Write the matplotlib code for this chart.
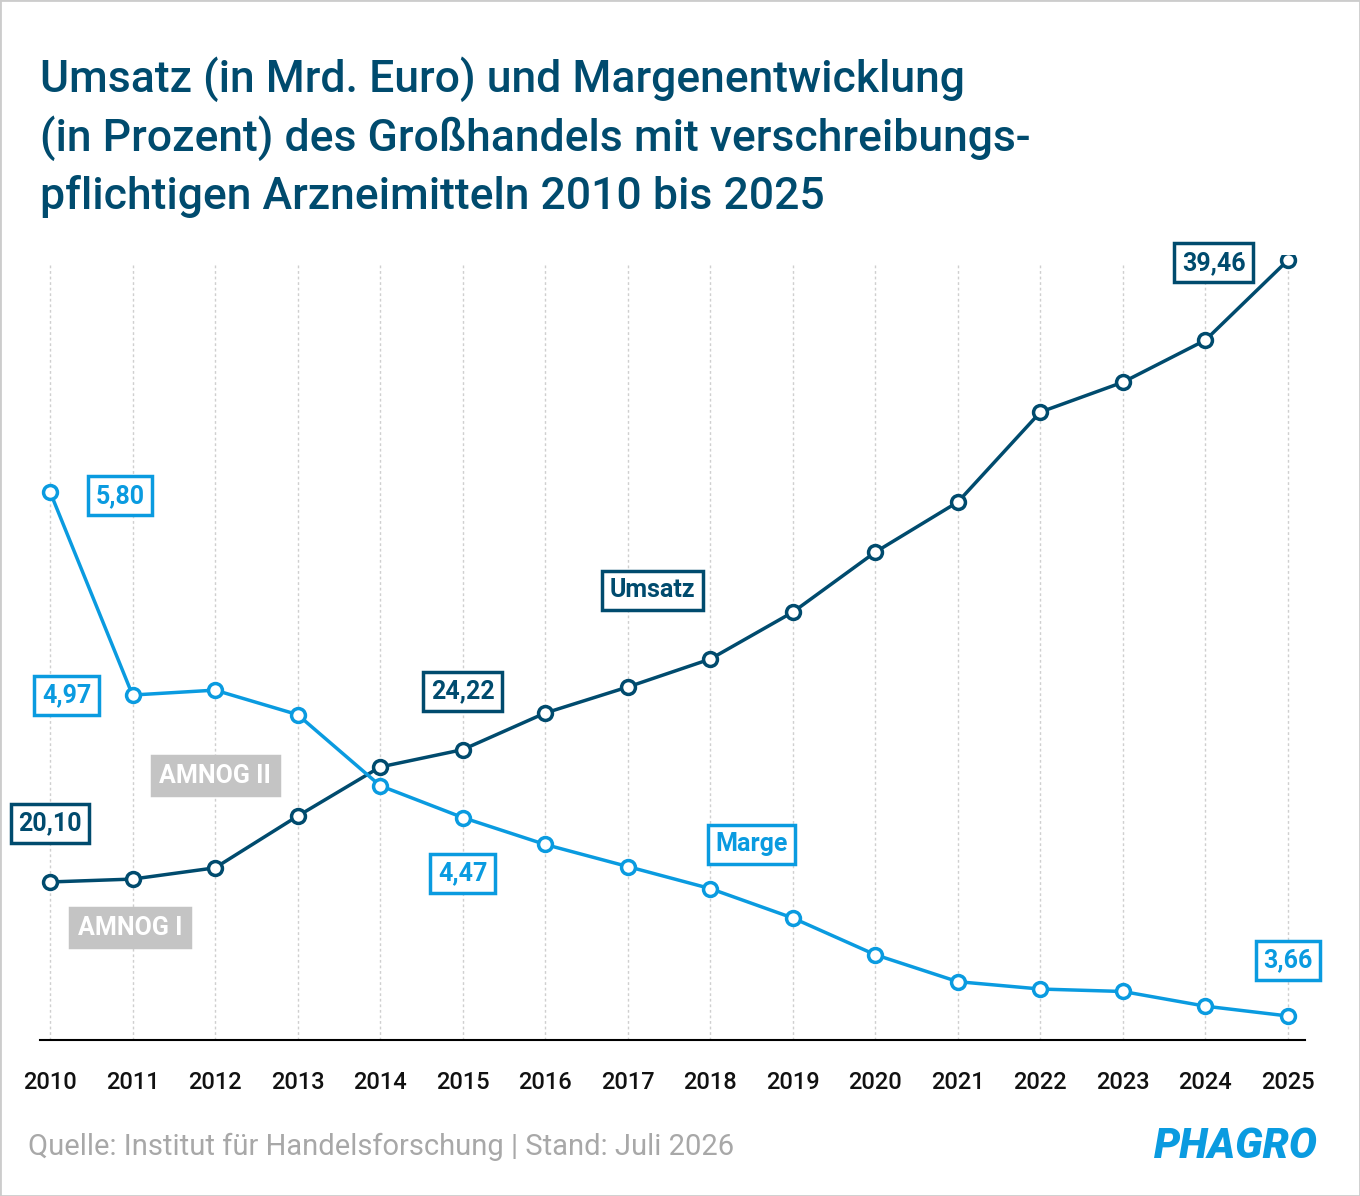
import matplotlib.pyplot as plt
from matplotlib.patches import Rectangle

years = list(range(2010, 2026))
umsatz = [20.10, 20.19, 20.54, 22.15, 23.68, 24.22, 25.36, 26.17, 27.04, 28.50,
          30.37, 31.93, 34.73, 35.66, 36.97, 39.46]
marge = [5.80, 4.97, 4.99, 4.89, 4.60, 4.47, 4.36, 4.27, 4.18, 4.06,
         3.91, 3.80, 3.77, 3.76, 3.70, 3.66]

dark = '#004b6e'
light = '#0a9be0'
grey = '#c4c4c4'
plt.rcParams['font.family'] = ['Roboto', 'DejaVu Sans']

W, H = 1360, 1196
fig = plt.figure(figsize=(W / 100, H / 100), dpi=100)
fig.patches.append(Rectangle((0, 0), 1, 1, transform=fig.transFigure, fill=False,
                             edgecolor='#cccccc', linewidth=2))

# axes spanning baseline (y=1040) to y=255, x pixels 40..1305
def px(x0, y0, x1, y1):
    return [x0 / W, 1 - y1 / H, (x1 - x0) / W, (y1 - y0) / H]

ax = fig.add_axes(px(40, 255, 1305, 1040))
x_lo = 2010 - (50 - 40) / ((1288 - 50) / 15)
x_hi = 2025 + (1305 - 1288) / ((1288 - 50) / 15)
ax.set_xlim(x_lo, x_hi)
ax.set_ylim(15.18, 39.62)
ax2 = ax.twinx()
ax2.set_ylim(3.562, 6.766)

for a in (ax, ax2):
    for s in a.spines.values():
        s.set_visible(False)
    a.set_yticks([])
ax.spines['bottom'].set_visible(True)
ax.spines['bottom'].set_linewidth(1.5)
ax.set_xticks(years)
ax.set_xticklabels([str(y) for y in years], fontsize=17, fontweight='medium', color='#111111')
ax.tick_params(axis='x', length=0, pad=22)
for y in years:
    ax.axvline(y, ymin=0, ymax=0.99, color='#cfcfcf', linestyle=(0, (2, 2)), linewidth=1, zorder=0)

mk = dict(marker='o', markersize=10, markerfacecolor='white', markeredgewidth=2.5, linewidth=2.5)
ax.plot(years, umsatz, color=dark, zorder=3, **mk)
ax2.plot(years, marge, color=light, zorder=3, **mk)

def box(a, x, y, txt, col, dx=0, dy=0, fc='white', ec=None, tc=None):
    a.annotate(txt, (x, y), xytext=(dx, dy), textcoords='offset points', ha='center', va='center',
               fontsize=18, fontweight='bold', color=tc or col, zorder=5,
               bbox=dict(boxstyle='square,pad=0.3', fc=fc, ec=ec or col, lw=2.5))

box(ax, 2010, umsatz[0], '20,10', dark, dy=42)
box(ax, 2015, umsatz[5], '24,22', dark, dy=42)
box(ax, 2024.1, umsatz[15], '39,46', dark, dy=-2)
box(ax, 2017.3, 29.19, 'Umsatz', dark)
box(ax2, 2010.85, marge[0], '5,80', light, dy=-3)
box(ax2, 2010.2, marge[1], '4,97', light, dy=0)
box(ax2, 2015, marge[5], '4,47', light, dy=-40)
box(ax2, 2025, marge[15], '3,66', light, dy=40)
box(ax2, 2018.5, 4.36, 'Marge', light)
box(ax, 2010.97, 18.67, 'AMNOG I', grey, fc=grey, tc='white')
box(ax, 2012.0, 23.40, 'AMNOG II', grey, fc=grey, tc='white')

fig.text(40 / W, 1 - 137 / H,
         'Umsatz (in Mrd. Euro) und Margenentwicklung\n(in Prozent) des Großhandels mit verschreibungs-\npflichtigen Arzneimitteln 2010 bis 2025',
         fontsize=32, fontweight='medium', color=dark, va='center', ha='left', linespacing=1.4)
fig.text(28 / W, 1 - 1147 / H, 'Quelle: Institut für Handelsforschung | Stand: Juli 2026',
         fontsize=21, color='#a8a8a8', va='center')
fig.text(1318 / W, 1 - 1147 / H, 'PHAGRO', fontsize=30, fontweight='black', style='italic',
         color=light, va='center', ha='right')

fig.savefig('out.png', dpi=100)
